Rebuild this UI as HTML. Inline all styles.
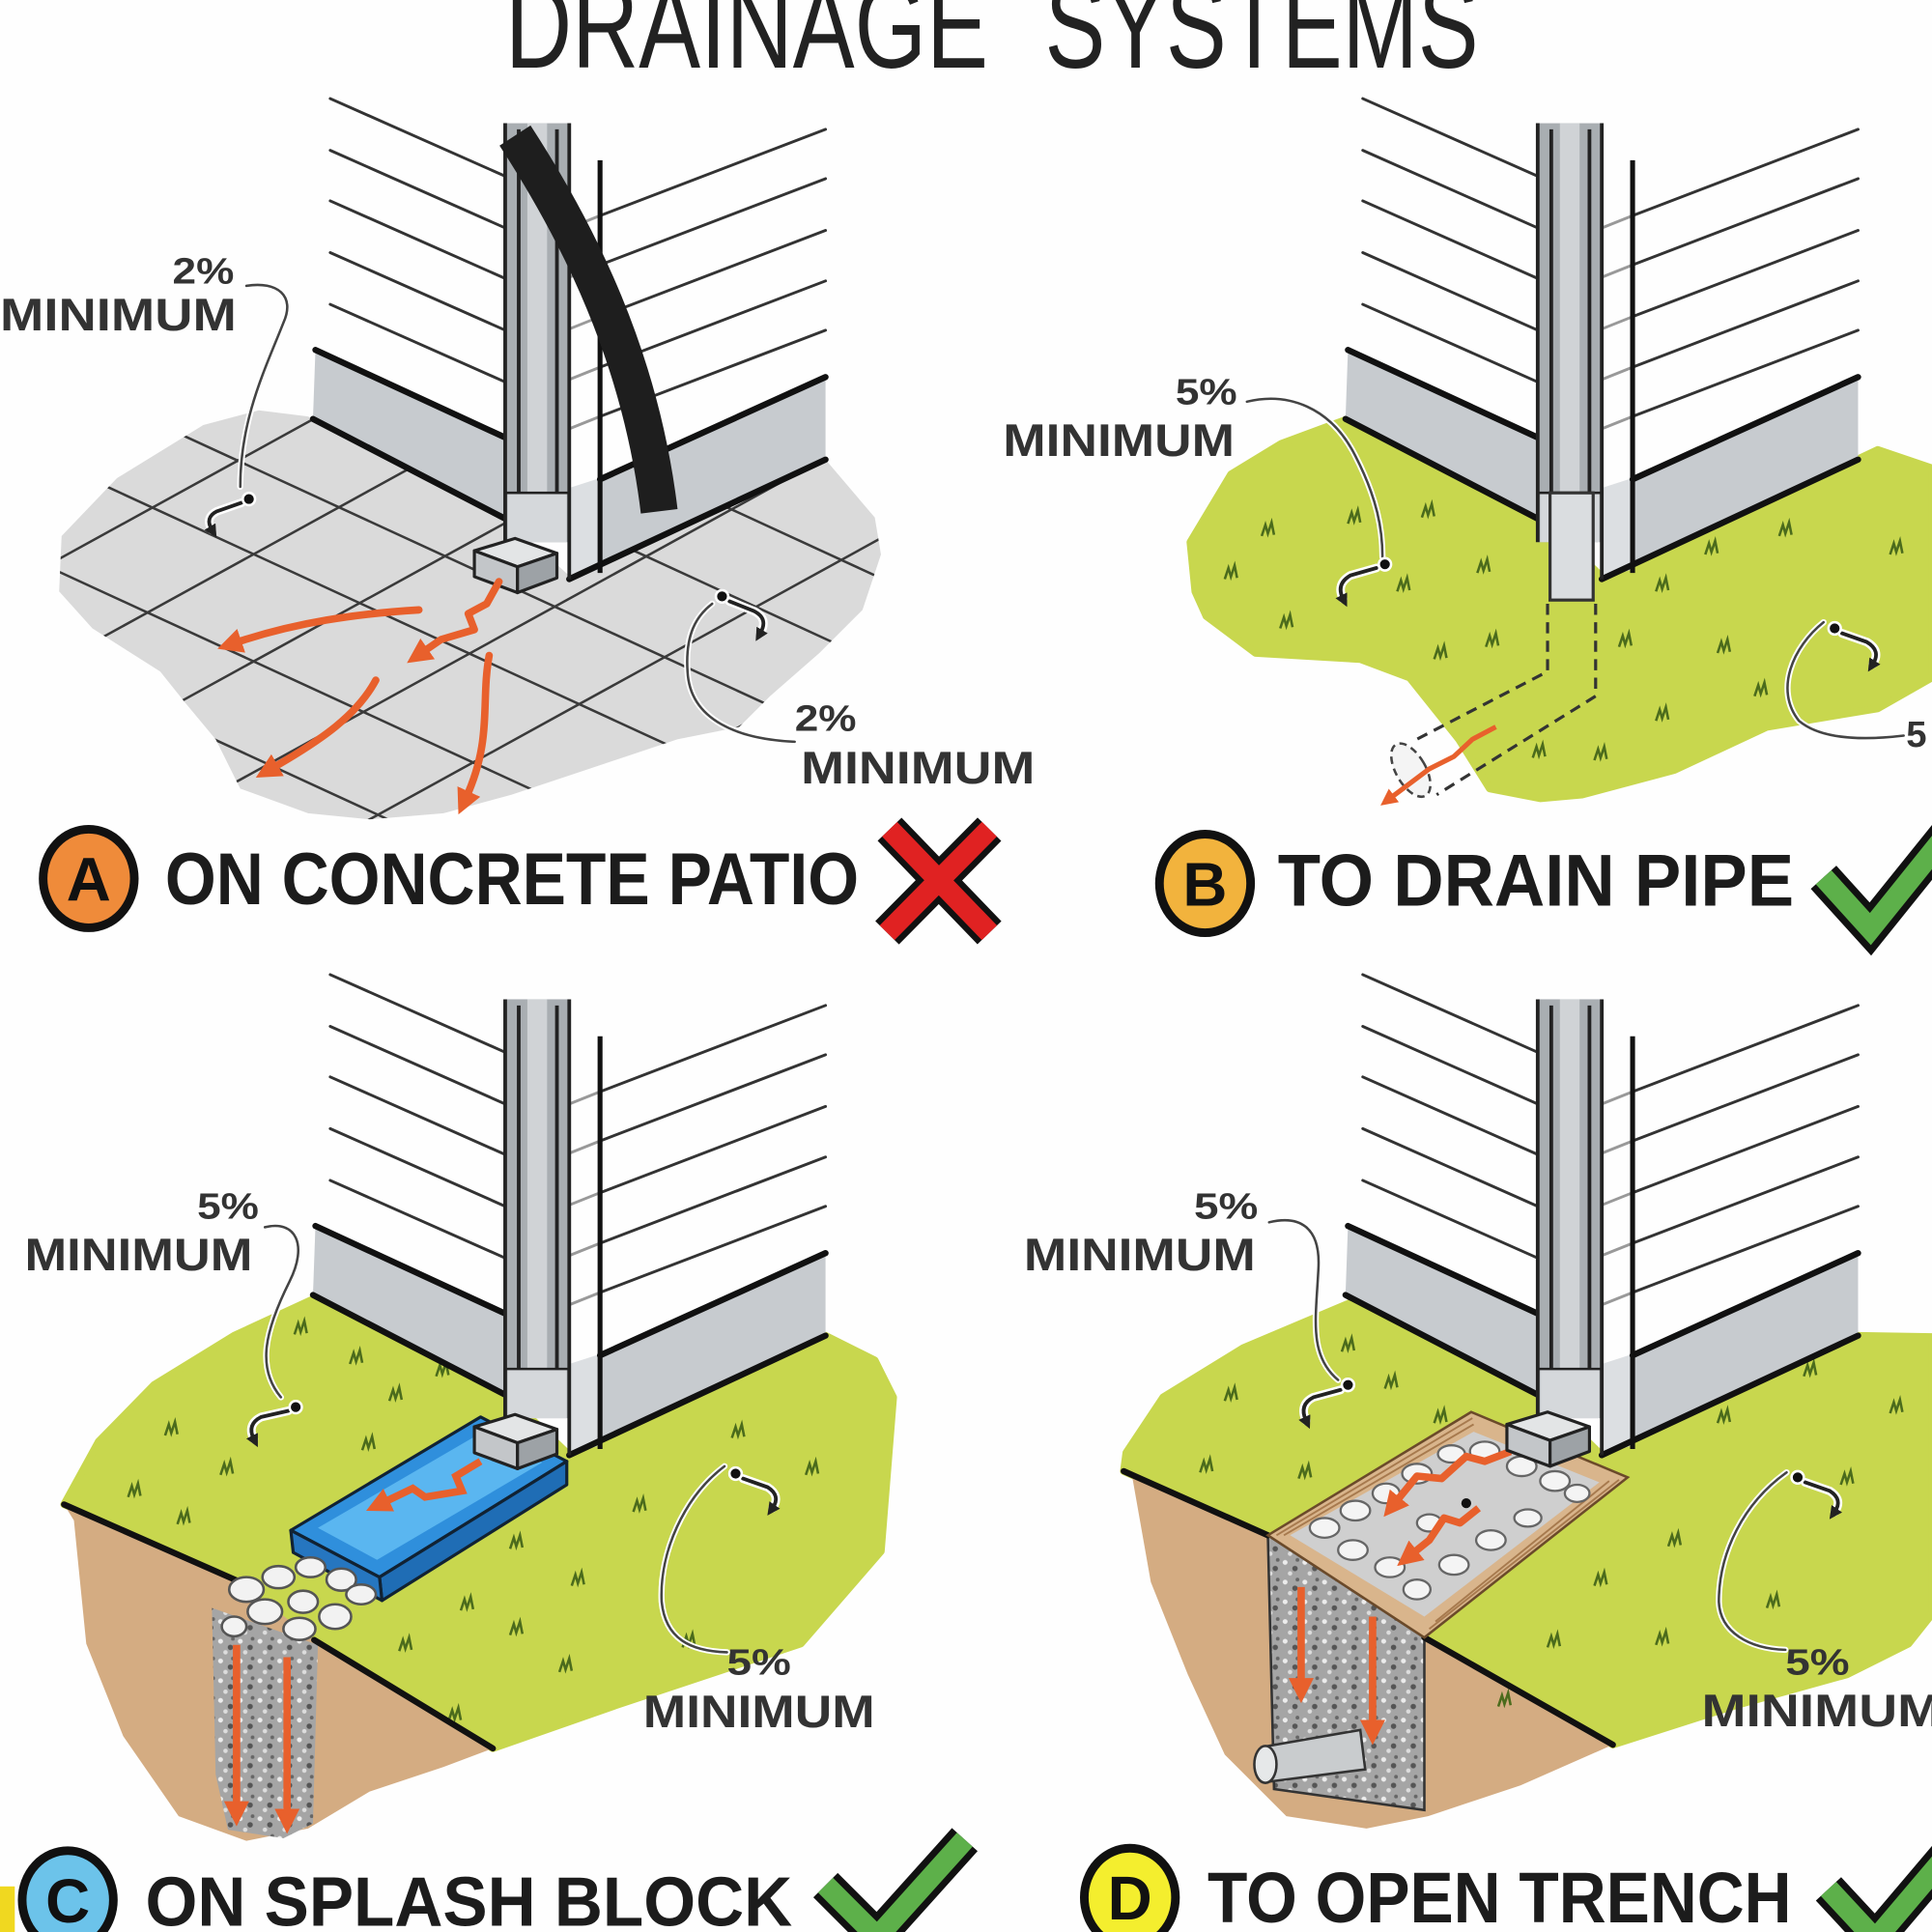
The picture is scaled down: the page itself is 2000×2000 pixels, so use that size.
<!DOCTYPE html>
<html><head><meta charset="utf-8">
<style>html,body{margin:0;padding:0;background:#fff}svg{display:block}</style>
</head><body>
<svg xmlns="http://www.w3.org/2000/svg" width="2000" height="2000" viewBox="0 0 1568 1568" font-family="'Liberation Sans', sans-serif">
<defs>
 <marker id="oa" viewBox="0 0 10 10" refX="3" refY="5" markerWidth="3.4" markerHeight="3.4" orient="auto"><path d="M0,0 L10,5 L0,10 z" fill="#e8602c"/></marker>
 <marker id="ka" viewBox="0 0 10 10" refX="3" refY="5" markerWidth="3.5" markerHeight="3.5" orient="auto"><path d="M0,0 L10,5 L0,10 z" fill="#222"/></marker>
 <pattern id="grav" width="16" height="16" patternUnits="userSpaceOnUse"><rect width="16" height="16" fill="#a5a5a5"/><circle cx="3" cy="4" r="2" fill="#ececec"/><circle cx="11" cy="9" r="2.2" fill="#555"/><circle cx="7" cy="13" r="1.8" fill="#ddd"/><circle cx="13" cy="2" r="1.5" fill="#666"/></pattern>
 <path id="tuft" d="M-6 5 L-3 -4 L-1 3 L2 -6 L4 4" fill="none" stroke="#4b6b1c" stroke-width="2"/>
 <g id="house">
  <g stroke="#333" stroke-width="2.3" fill="none" stroke-linecap="round">
   <path d="M268 80 L410 143 M268 122 L410 185 M268 163 L410 226 M268 205 L410 268 M268 247 L410 310"/>
   <path d="M487 175 L670 105 M487 215 L670 145 M487 257 L670 187 M487 298 L670 228 M487 338 L670 268"/>
   <path d="M462 185 L487 175 M462 225 L487 215 M462 267 L487 257 M462 308 L487 298 M462 348 L487 338" stroke="#999"/>
  </g>
  <polygon points="256,284 412,356 412,422 254,340" fill="#c7cbcf"/>
  <polygon points="462,400 670,306 670,373 462,470" fill="#c7cbcf"/>
  <polygon points="462,396 487,388 487,462 462,470" fill="#dcdfe2"/>
  <g stroke="#111" stroke-width="5" stroke-linecap="round">
   <line x1="256" y1="284" x2="412" y2="356"/>
   <line x1="254" y1="340" x2="412" y2="422"/>
   <line x1="487" y1="389" x2="670" y2="306"/>
   <line x1="462" y1="470" x2="670" y2="373"/>
  </g>
  <line x1="487" y1="130" x2="487" y2="465" stroke="#111" stroke-width="4"/>
  <rect x="410" y="100" width="52" height="340" fill="#a9aeb2"/>
  <rect x="428" y="100" width="16" height="300" fill="#d0d3d6"/>
  <rect x="412" y="400" width="48" height="40" fill="#d5d8db"/>
  <g stroke="#222" stroke-width="3">
   <line x1="410" y1="100" x2="410" y2="440"/><line x1="462" y1="100" x2="462" y2="470"/>
   <line x1="421" y1="105" x2="421" y2="400"/><line x1="452" y1="105" x2="452" y2="400"/>
   <line x1="410" y1="400" x2="462" y2="400" stroke-width="2"/>
  </g>
 </g>
 <g id="elbow" stroke="#222" stroke-width="2.5" stroke-linejoin="round">
  <polygon points="385,447 418,437 452,449 420,460" fill="#e3e5e6"/>
  <polygon points="385,447 420,460 420,481 385,468" fill="#c3c6c9"/>
  <polygon points="420,460 452,449 452,469 420,481" fill="#9da2a6"/>
 </g>
 <clipPath id="patioClip"><polygon points="250,338 210,333 165,345 95,388 50,435 48,480 75,510 130,545 150,570 175,600 195,640 250,660 300,665 360,660 415,645 475,625 550,600 600,590 625,565 665,530 700,495 715,450 710,420 670,373 465,470 412,422"/></clipPath>
</defs>

<rect width="1568" height="1568" fill="#fefefe"/>

<!-- TITLE -->
<text x="410" y="55" font-size="100" fill="#222" textLength="392" lengthAdjust="spacingAndGlyphs">DRAINAGE</text>
<text x="848" y="55" font-size="100" fill="#222" textLength="352" lengthAdjust="spacingAndGlyphs">SYSTEMS</text>

<!-- ===== PANEL A ===== -->
<polygon points="250,338 210,333 165,345 95,388 50,435 48,480 75,510 130,545 150,570 175,600 195,640 250,660 300,665 360,660 415,645 475,625 550,600 600,590 625,565 665,530 700,495 715,450 710,420 670,373 465,470 412,422" fill="#dadada"/>
<g clip-path="url(#patioClip)" stroke="#3a3a3a" stroke-width="2">
 <path d="M0 -30 L760 320 M0 60 L760 410 M0 140 L760 490 M0 210 L760 560 M0 285 L760 635 M0 355 L760 705 M0 442 L760 792 M0 520 L760 870"/>
 <path d="M0 480 L760 62 M0 563 L760 145 M0 650 L760 232 M0 740 L760 322 M0 830 L760 412 M0 920 L760 502 M0 1010 L760 592 M0 1100 L760 682"/>
</g>
<use href="#house"/>
<path d="M418 110 C 470 190, 520 290, 535 415" fill="none" stroke="#1e1e1e" stroke-width="30"/>
<use href="#elbow"/>
<g fill="none" stroke="#e8602c" stroke-width="6" stroke-linecap="round" stroke-linejoin="round" marker-end="url(#oa)">
 <path d="M340 495 C 290 498, 240 505, 190 522"/>
 <path d="M405 472 L395 490 L380 498 L385 511 L358 519 L342 530"/>
 <path d="M305 552 C 290 580, 262 600, 220 624"/>
 <path d="M397 532 C 390 570, 400 600, 378 648"/>
</g>
<!-- A annotations -->
<g fill="#333" font-weight="bold">
 <text x="140" y="230" font-size="30" textLength="50" lengthAdjust="spacingAndGlyphs">2%</text>
 <text x="0" y="268" font-size="37" textLength="192" lengthAdjust="spacingAndGlyphs">MINIMUM</text>
 <text x="645" y="593" font-size="30" textLength="50" lengthAdjust="spacingAndGlyphs">2%</text>
 <text x="650" y="636" font-size="37" textLength="190" lengthAdjust="spacingAndGlyphs">MINIMUM</text>
</g>
<g fill="none" stroke-linecap="round">
 <path d="M200,232 C 225,228 240,240 230,262 C 215,300 195,340 195,395" stroke="#fff" stroke-width="5"/>
 <path d="M200,232 C 225,228 240,240 230,262 C 215,300 195,340 195,395" stroke="#444" stroke-width="2"/>
 <path d="M196,408 L176,415 Q166,420 172,430" stroke="#fff" stroke-width="7"/>
 <path d="M196,408 L176,415 Q166,420 172,430" stroke="#222" stroke-width="3" marker-end="url(#ka)"/>
 <path d="M645,602 C 600,600 560,585 558,545 C 556,515 565,500 578,490" stroke="#fff" stroke-width="5"/>
 <path d="M645,602 C 600,600 560,585 558,545 C 556,515 565,500 578,490" stroke="#444" stroke-width="2"/>
 <path d="M592,488 L612,496 Q624,502 617,514" stroke="#fff" stroke-width="7"/>
 <path d="M592,488 L612,496 Q624,502 617,514" stroke="#222" stroke-width="3" marker-end="url(#ka)"/>
</g>
<circle cx="202" cy="405" r="5" fill="#111" stroke="#fff" stroke-width="2"/>
<circle cx="586" cy="484" r="5" fill="#111" stroke="#fff" stroke-width="2"/>
<!-- A label -->
<ellipse cx="72" cy="713" rx="37" ry="40" fill="#ef8b3a" stroke="#111" stroke-width="7"/>
<text x="72" y="731" font-size="50" font-weight="bold" fill="#111" text-anchor="middle">A</text>
<text x="134" y="734" font-size="60" font-weight="bold" fill="#1c1c1c" textLength="563" lengthAdjust="spacingAndGlyphs">ON CONCRETE PATIO</text>
<g stroke-linecap="butt">
 <path d="M722 673 L803 757 M803 673 L720 757" stroke="#111" stroke-width="27"/>
 <path d="M722 673 L803 757 M803 673 L720 757" stroke="#e02222" stroke-width="17"/>
</g>

<!-- ===== PANEL B ===== -->
<path d="M1094,340 L1040,360 L999,385 L966,440 L970,480 L979,500 L1019,530 L1104,535 L1144,550 L1184,600 L1209,640 L1250,648 L1284,645 L1359,625 L1434,590 L1524,575 L1568,550 L1568,380 L1524,365 L1302,470 L1252,422 Z" fill="#c8d74e" stroke="#c8d74e" stroke-width="6" stroke-linejoin="round"/>
<g>
 <use href="#tuft" x="1030" y="430"/><use href="#tuft" x="1000" y="465"/><use href="#tuft" x="1045" y="505"/><use href="#tuft" x="1100" y="420"/><use href="#tuft" x="1160" y="415"/><use href="#tuft" x="1140" y="475"/><use href="#tuft" x="1205" y="460"/><use href="#tuft" x="1212" y="520"/><use href="#tuft" x="1320" y="520"/><use href="#tuft" x="1350" y="475"/><use href="#tuft" x="1390" y="445"/><use href="#tuft" x="1450" y="430"/><use href="#tuft" x="1540" y="445"/><use href="#tuft" x="1400" y="525"/><use href="#tuft" x="1300" y="612"/><use href="#tuft" x="1350" y="580"/><use href="#tuft" x="1430" y="560"/><use href="#tuft" x="1170" y="530"/><use href="#tuft" x="1250" y="610"/>
</g>
<use href="#house" transform="translate(838,0)"/>
<rect x="1258" y="400" width="35" height="87" fill="#dadde0" stroke="#333" stroke-width="2.5"/>
<g fill="none" stroke="#333" stroke-width="2.5" stroke-dasharray="9,6">
 <path d="M1256 490 L1256 545 L1146 602"/>
 <path d="M1295 490 L1295 565 L1166 645"/>
</g>
<ellipse cx="1145" cy="625" rx="12" ry="24" transform="rotate(-30 1145 625)" fill="#f4f4f4" stroke="#444" stroke-width="2" stroke-dasharray="6,4"/>
<path d="M1214,590 L1195,600 L1180,614 L1160,624 L1128,648" fill="none" stroke="#e8602c" stroke-width="4" marker-end="url(#oa)"/>
<g fill="#333" font-weight="bold">
 <text x="954" y="328" font-size="30" textLength="50" lengthAdjust="spacingAndGlyphs">5%</text>
 <text x="814" y="370" font-size="37" textLength="188" lengthAdjust="spacingAndGlyphs">MINIMUM</text>
 <text x="1547" y="606" font-size="30">5</text>
</g>
<g fill="none" stroke-linecap="round">
 <path d="M1012,326 C 1045,318 1080,330 1100,370 C 1118,405 1122,430 1122,452" stroke="#fff" stroke-width="5"/>
 <path d="M1012,326 C 1045,318 1080,330 1100,370 C 1118,405 1122,430 1122,452" stroke="#444" stroke-width="2"/>
 <path d="M1117,461 L1096,467 Q1084,474 1090,486" stroke="#fff" stroke-width="7"/>
 <path d="M1117,461 L1096,467 Q1084,474 1090,486" stroke="#222" stroke-width="3" marker-end="url(#ka)"/>
 <path d="M1480,505 C 1455,525 1440,560 1460,585 C 1480,602 1520,600 1545,597" stroke="#fff" stroke-width="5"/>
 <path d="M1480,505 C 1455,525 1440,560 1460,585 C 1480,602 1520,600 1545,597" stroke="#444" stroke-width="2"/>
 <path d="M1495,514 L1515,521 Q1527,528 1520,539" stroke="#fff" stroke-width="7"/>
 <path d="M1495,514 L1515,521 Q1527,528 1520,539" stroke="#222" stroke-width="3" marker-end="url(#ka)"/>
</g>
<circle cx="1124" cy="458" r="5" fill="#111" stroke="#fff" stroke-width="2"/>
<circle cx="1489" cy="510" r="5" fill="#111" stroke="#fff" stroke-width="2"/>
<ellipse cx="978" cy="717" rx="37" ry="40" fill="#f2b33d" stroke="#111" stroke-width="7"/>
<text x="978" y="735" font-size="50" font-weight="bold" fill="#111" text-anchor="middle">B</text>
<text x="1037" y="735" font-size="60" font-weight="bold" fill="#1c1c1c" textLength="419" lengthAdjust="spacingAndGlyphs">TO DRAIN PIPE</text>
<g fill="none" stroke-linejoin="miter" stroke-linecap="butt">
 <path d="M1480 712 L1518 754 L1592 662" stroke="#111" stroke-width="28"/>
 <path d="M1480 712 L1518 754 L1592 662" stroke="#5db04a" stroke-width="17"/>
</g>

<!-- ===== PANEL C ===== -->
<path d="M255,1054 L190,1084 L125,1124 L80,1170 L52,1221 L195,1284 L255,1331 L400,1419 L500,1384 L650,1334 L715,1259 L725,1134 L710,1104 L670,1084 L462,1181 L412,1133 Z" fill="#c8d74e" stroke="#c8d74e" stroke-width="6" stroke-linejoin="round"/>
<path d="M52,1221 L60,1234 L70,1334 L100,1409 L145,1474 L200,1494 L250,1484 L300,1454 L360,1434 L400,1419 L255,1331 L195,1284 Z" fill="#d4ac82"/>
<g>
 <use href="#tuft" x="245" y="1078"/><use href="#tuft" x="290" y="1102"/><use href="#tuft" x="322" y="1132"/><use href="#tuft" x="360" y="1112"/><use href="#tuft" x="140" y="1160"/><use href="#tuft" x="185" y="1192"/><use href="#tuft" x="300" y="1172"/><use href="#tuft" x="340" y="1192"/><use href="#tuft" x="110" y="1210"/><use href="#tuft" x="150" y="1232"/><use href="#tuft" x="420" y="1252"/><use href="#tuft" x="380" y="1302"/><use href="#tuft" x="420" y="1322"/><use href="#tuft" x="470" y="1282"/><use href="#tuft" x="520" y="1222"/><use href="#tuft" x="600" y="1162"/><use href="#tuft" x="660" y="1192"/><use href="#tuft" x="560" y="1332"/><use href="#tuft" x="460" y="1352"/><use href="#tuft" x="330" y="1335"/><use href="#tuft" x="370" y="1392"/>
</g>
<polygon points="172,1305 258,1335 254,1480 230,1492 185,1485 175,1440" fill="url(#grav)"/>
<g fill="none" stroke="#e8602c" stroke-width="6" marker-end="url(#oa)">
 <path d="M192 1335 L192 1468"/><path d="M233 1345 L233 1474"/>
</g>
<g stroke="#111" stroke-width="5" stroke-linecap="round"><line x1="52" y1="1221" x2="195" y2="1284"/><line x1="255" y1="1331" x2="400" y2="1419"/></g>
<!-- splash block -->
<g stroke="#123" stroke-width="2.5" stroke-linejoin="round">
 <polygon points="236,1242 390,1150 460,1186 308,1280" fill="#2f8fdc"/>
 <polygon points="308,1280 460,1186 460,1205 310,1299" fill="#1f6db5"/>
 <polygon points="236,1242 308,1280 310,1299 238,1260" fill="#2676c0"/>
</g>
<polygon points="258,1240 392,1162 440,1187 306,1266" fill="#5ab6f0"/>
<path d="M390,1186 L370,1198 L375,1210 L345,1215 L335,1208 L310,1220" fill="none" stroke="#e8602c" stroke-width="6" marker-end="url(#oa)"/>
<g fill="#f2f2f2" stroke="#555" stroke-width="2">
 <ellipse cx="200" cy="1290" rx="14" ry="10"/><ellipse cx="226" cy="1280" rx="13" ry="9"/><ellipse cx="252" cy="1272" rx="12" ry="8"/><ellipse cx="277" cy="1282" rx="12" ry="9"/><ellipse cx="215" cy="1308" rx="14" ry="10"/><ellipse cx="246" cy="1300" rx="12" ry="9"/><ellipse cx="272" cy="1312" rx="13" ry="10"/><ellipse cx="293" cy="1294" rx="12" ry="8"/><ellipse cx="243" cy="1322" rx="13" ry="9"/><ellipse cx="190" cy="1320" rx="10" ry="8"/>
</g>
<use href="#house" transform="translate(0,711)"/>
<use href="#elbow" transform="translate(0,711)"/>
<g fill="#333" font-weight="bold">
 <text x="160" y="989" font-size="30" textLength="50" lengthAdjust="spacingAndGlyphs">5%</text>
 <text x="20" y="1031" font-size="37" textLength="185" lengthAdjust="spacingAndGlyphs">MINIMUM</text>
 <text x="590" y="1359" font-size="30" textLength="52" lengthAdjust="spacingAndGlyphs">5%</text>
 <text x="522" y="1402" font-size="37" textLength="188" lengthAdjust="spacingAndGlyphs">MINIMUM</text>
</g>
<g fill="none" stroke-linecap="round">
 <path d="M215,996 C 240,990 250,1010 235,1040 C 215,1080 208,1110 228,1134" stroke="#fff" stroke-width="5"/>
 <path d="M215,996 C 240,990 250,1010 235,1040 C 215,1080 208,1110 228,1134" stroke="#444" stroke-width="2"/>
 <path d="M234,1145 L212,1150 Q200,1156 206,1168" stroke="#fff" stroke-width="7"/>
 <path d="M234,1145 L212,1150 Q200,1156 206,1168" stroke="#222" stroke-width="3" marker-end="url(#ka)"/>
 <path d="M588,1190 C 555,1215 535,1260 537,1300 C 540,1330 560,1340 590,1341" stroke="#fff" stroke-width="5"/>
 <path d="M588,1190 C 555,1215 535,1260 537,1300 C 540,1330 560,1340 590,1341" stroke="#444" stroke-width="2"/>
 <path d="M603,1200 L623,1207 Q634,1214 627,1224" stroke="#fff" stroke-width="7"/>
 <path d="M603,1200 L623,1207 Q634,1214 627,1224" stroke="#222" stroke-width="3" marker-end="url(#ka)"/>
</g>
<circle cx="240" cy="1142" r="5" fill="#111" stroke="#fff" stroke-width="2"/>
<circle cx="597" cy="1196" r="5" fill="#111" stroke="#fff" stroke-width="2"/>
<rect x="0" y="1531" width="12" height="37" fill="#f0d820"/>
<ellipse cx="55" cy="1542" rx="37" ry="40" fill="#6cc3ea" stroke="#111" stroke-width="7"/>
<text x="55" y="1560" font-size="50" font-weight="bold" fill="#111" text-anchor="middle">C</text>
<text x="118" y="1563" font-size="57" font-weight="bold" fill="#1c1c1c" textLength="525" lengthAdjust="spacingAndGlyphs">ON SPLASH BLOCK</text>
<g fill="none" stroke-linejoin="miter" stroke-linecap="butt">
 <path d="M670 1530 L712 1572 L783 1493" stroke="#111" stroke-width="28"/>
 <path d="M670 1530 L712 1572 L783 1493" stroke="#5db04a" stroke-width="17"/>
</g>

<!-- ===== PANEL D ===== -->
<path d="M1099,1056 L1009,1094 L944,1134 L914,1179 L912,1194 L1034,1249 L1156,1329 L1309,1416 L1409,1384 L1499,1359 L1549,1334 L1568,1310 L1568,1085 L1508,1084 L1300,1181 L1250,1133 Z" fill="#c8d74e" stroke="#c8d74e" stroke-width="6" stroke-linejoin="round"/>
<path d="M912,1194 L919,1199 L934,1284 L964,1359 L994,1424 L1044,1474 L1109,1484 L1159,1474 L1234,1449 L1309,1416 L1156,1329 L1034,1249 Z" fill="#d4ac82"/>
<g>
 <use href="#tuft" x="1095" y="1092"/><use href="#tuft" x="1000" y="1132"/><use href="#tuft" x="1130" y="1122"/><use href="#tuft" x="1170" y="1150"/><use href="#tuft" x="1145" y="1190"/><use href="#tuft" x="980" y="1190"/><use href="#tuft" x="1060" y="1195"/><use href="#tuft" x="1400" y="1150"/><use href="#tuft" x="1470" y="1112"/><use href="#tuft" x="1540" y="1142"/><use href="#tuft" x="1360" y="1250"/><use href="#tuft" x="1300" y="1282"/><use href="#tuft" x="1262" y="1332"/><use href="#tuft" x="1350" y="1330"/><use href="#tuft" x="1222" y="1380"/><use href="#tuft" x="1440" y="1300"/><use href="#tuft" x="1500" y="1200"/>
</g>
<polygon points="1029,1246 1156,1329 1156,1469 1034,1452" fill="url(#grav)" stroke="#333" stroke-width="2"/>
<path d="M1024,1418 L1104,1404 L1108,1436 L1030,1446 Z" fill="#c9ccce" stroke="#333" stroke-width="2"/>
<ellipse cx="1027" cy="1432" rx="9" ry="15" fill="#e6e8e9" stroke="#333" stroke-width="2"/>
<g fill="none" stroke="#e8602c" stroke-width="6" marker-end="url(#oa)">
 <path d="M1056 1288 L1056 1368"/><path d="M1114 1312 L1114 1402"/>
</g>
<g stroke="#111" stroke-width="5" stroke-linecap="round"><line x1="912" y1="1194" x2="1029" y2="1246"/><line x1="1156" y1="1329" x2="1309" y2="1416"/></g>
<polygon points="1029,1246 1194,1146 1321,1199 1156,1329" fill="#d9b58c" stroke="#6b4a2a" stroke-width="2"/>
<g stroke="#a77a4e" stroke-width="1.5" fill="none">
 <path d="M1036,1246 L1195,1151 M1042,1246 L1196,1156 M1160,1322 L1314,1201 M1165,1316 L1306,1202"/>
</g>
<polygon points="1047,1246 1196,1162 1298,1203 1156,1312" fill="#cfcfcf"/>
<g fill="#f4f4f4" stroke="#666" stroke-width="1.8">
 <ellipse cx="1075" cy="1240" rx="12" ry="8"/><ellipse cx="1100" cy="1226" rx="12" ry="8"/><ellipse cx="1125" cy="1212" rx="11" ry="8"/><ellipse cx="1150" cy="1196" rx="12" ry="8"/><ellipse cx="1178" cy="1180" rx="11" ry="7"/><ellipse cx="1205" cy="1178" rx="12" ry="8"/><ellipse cx="1235" cy="1190" rx="12" ry="8"/><ellipse cx="1262" cy="1202" rx="12" ry="8"/><ellipse cx="1280" cy="1212" rx="10" ry="7"/><ellipse cx="1098" cy="1258" rx="12" ry="8"/><ellipse cx="1128" cy="1272" rx="12" ry="8"/><ellipse cx="1150" cy="1290" rx="11" ry="8"/><ellipse cx="1180" cy="1270" rx="12" ry="8"/><ellipse cx="1210" cy="1250" rx="12" ry="8"/><ellipse cx="1240" cy="1232" rx="11" ry="7"/><ellipse cx="1160" cy="1236" rx="10" ry="7"/>
</g>
<g fill="none" stroke="#e8602c" stroke-width="6" stroke-linejoin="round" marker-end="url(#oa)">
 <path d="M1226,1178 L1205,1186 L1190,1182 L1170,1200 L1150,1198 L1132,1220"/>
 <path d="M1200,1224 L1185,1236 L1172,1232 L1160,1250 L1145,1262"/>
</g>
<circle cx="1190" cy="1220" r="4" fill="#111"/>
<use href="#house" transform="translate(838,711)"/>
<use href="#elbow" transform="translate(838,709)"/>
<g fill="#333" font-weight="bold">
 <text x="969" y="989" font-size="30" textLength="52" lengthAdjust="spacingAndGlyphs">5%</text>
 <text x="831" y="1031" font-size="37" textLength="188" lengthAdjust="spacingAndGlyphs">MINIMUM</text>
 <text x="1449" y="1359" font-size="30" textLength="52" lengthAdjust="spacingAndGlyphs">5%</text>
 <text x="1381" y="1401" font-size="37" textLength="195" lengthAdjust="spacingAndGlyphs">MINIMUM</text>
</g>
<g fill="none" stroke-linecap="round">
 <path d="M1030,992 C 1055,986 1072,996 1070,1030 C 1068,1070 1062,1100 1086,1120" stroke="#fff" stroke-width="5"/>
 <path d="M1030,992 C 1055,986 1072,996 1070,1030 C 1068,1070 1062,1100 1086,1120" stroke="#444" stroke-width="2"/>
 <path d="M1088,1128 L1066,1134 Q1054,1140 1060,1153" stroke="#fff" stroke-width="7"/>
 <path d="M1088,1128 L1066,1134 Q1054,1140 1060,1153" stroke="#222" stroke-width="3" marker-end="url(#ka)"/>
 <path d="M1450,1195 C 1415,1220 1395,1260 1395,1300 C 1396,1325 1420,1338 1449,1339" stroke="#fff" stroke-width="5"/>
 <path d="M1450,1195 C 1415,1220 1395,1260 1395,1300 C 1396,1325 1420,1338 1449,1339" stroke="#444" stroke-width="2"/>
 <path d="M1465,1203 L1485,1210 Q1496,1217 1489,1227" stroke="#fff" stroke-width="7"/>
 <path d="M1465,1203 L1485,1210 Q1496,1217 1489,1227" stroke="#222" stroke-width="3" marker-end="url(#ka)"/>
</g>
<circle cx="1094" cy="1124" r="5" fill="#111" stroke="#fff" stroke-width="2"/>
<circle cx="1459" cy="1199" r="5" fill="#111" stroke="#fff" stroke-width="2"/>
<ellipse cx="917" cy="1540" rx="37" ry="40" fill="#f4ee2e" stroke="#111" stroke-width="7"/>
<text x="917" y="1558" font-size="50" font-weight="bold" fill="#111" text-anchor="middle">D</text>
<text x="980" y="1560" font-size="58" font-weight="bold" fill="#1c1c1c" textLength="474" lengthAdjust="spacingAndGlyphs">TO OPEN TRENCH</text>
<g fill="none" stroke-linejoin="miter" stroke-linecap="butt">
 <path d="M1484 1533 L1522 1574 L1595 1488" stroke="#111" stroke-width="28"/>
 <path d="M1484 1533 L1522 1574 L1595 1488" stroke="#5db04a" stroke-width="17"/>
</g>
</svg>
</body></html>
